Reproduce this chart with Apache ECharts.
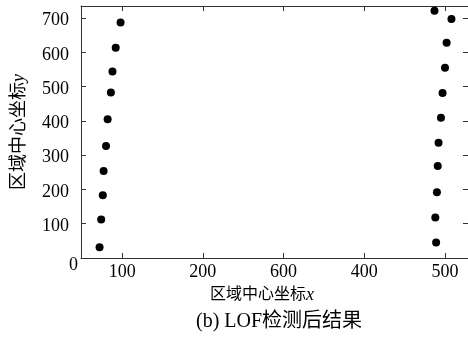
<!DOCTYPE html>
<html>
<head>
<meta charset="utf-8">
<script src="https://cdn.jsdelivr.net/npm/echarts@6/dist/echarts.min.js"></script>
<style>
html,body{margin:0;padding:0;background:#fff;}
#chart{width:468px;height:338px;}
</style>
</head>
<body>
<div id="chart"></div>
<script>
// Left cluster (x, y)
const leftX = [98, 92, 88, 86, 82, 80, 77, 76, 74, 72];
const leftY = [687, 613, 544, 483, 405, 327, 254, 183, 112, 31];
// Right cluster (x, y)
const rightX = [487, 508, 502, 500, 497, 495, 492, 491, 490, 488, 489];
const rightY = [721, 697, 628, 555, 481, 409, 336, 268, 192, 118, 45];
// Tick values and labels
const xTickValues = [100, 200, 300, 400, 500];
const xTickLabels = ['100', '200', '600', '400', '500'];
const yTickValues = [0, 100, 200, 300, 400, 500, 600, 700];
const yTickLabels = ['0', '100', '200', '300', '400', '500', '600', '700'];

const xName = '区域中心坐标';
const xNameVar = 'x';
const yName = '区域中心坐标';
const yNameVar = 'y';
const caption = '(b) LOF检测后结果';

const FONT = "'Liberation Serif', 'Noto Sans CJK SC', serif";
const AX = '#333';

const points = [];
leftX.forEach((x, i) => points.push([x, leftY[i]]));
rightX.forEach((x, i) => points.push([x, rightY[i]]));

const chart = echarts.init(document.getElementById('chart'), null, {renderer: 'canvas'});
chart.setOption({
  animation: false,
  backgroundColor: '#fff',
  title: {
    text: caption,
    left: 196, top: 312, padding: 0,
    textStyle: {fontFamily: FONT, fontSize: 20, fontWeight: 'normal', color: '#000'}
  },
  grid: {left: 81, top: 6, right: 0, bottom: 80, containLabel: false},
  xAxis: [{
    type: 'value', min: 49, max: 528.5, position: 'bottom',
    name: '{a|' + xName + '}{b|' + xNameVar + '}',
    nameLocation: 'middle', nameGap: 27,
    nameTextStyle: {
      padding: [0, 25, 0, 0],
      rich: {
        a: {fontFamily: FONT, fontSize: 16, color: '#000'},
        b: {fontFamily: FONT, fontSize: 18, fontStyle: 'italic', color: '#000'}
      }
    },
    axisLine: {show: true, lineStyle: {color: AX, width: 1}},
    axisTick: {show: true, inside: true, length: 5, customValues: xTickValues, lineStyle: {color: AX}},
    axisLabel: {
      customValues: xTickValues, margin: 5,
      formatter: v => xTickLabels[xTickValues.indexOf(v)],
      fontFamily: FONT, fontSize: 18, color: '#000'
    },
    splitLine: {show: false}
  }, {
    type: 'value', min: 49, max: 528.5, position: 'top',
    axisLine: {show: true, onZero: false, lineStyle: {color: AX, width: 1}},
    axisTick: {show: true, inside: true, length: 5, customValues: xTickValues, lineStyle: {color: AX}},
    axisLabel: {show: false},
    splitLine: {show: false}
  }],
  yAxis: [{
    type: 'value', min: 0, max: 735, position: 'left',
    name: '{a|' + yName + '}{b|' + yNameVar + '}',
    nameLocation: 'middle', nameGap: 53,
    nameTextStyle: {
      rich: {
        a: {fontFamily: FONT, fontSize: 18, color: '#000'},
        b: {fontFamily: FONT, fontSize: 18, fontStyle: 'italic', color: '#000'}
      }
    },
    axisLine: {show: true, lineStyle: {color: AX, width: 1}},
    axisTick: {show: true, inside: true, length: 5, customValues: yTickValues, lineStyle: {color: AX}},
    axisLabel: {
      customValues: yTickValues, margin: 3,
      formatter: v => {
        const t = yTickLabels[yTickValues.indexOf(v)];
        return v === 0 ? '{z|' + t + '}' : '{n|' + t + '}';
      },
      rich: {
        n: {fontFamily: FONT, fontSize: 18, color: '#000', padding: [5, 9, 0, 0]},
        z: {fontFamily: FONT, fontSize: 18, color: '#000', padding: [14, 0, 0, 0]}
      }
    },
    splitLine: {show: false}
  }, {
    type: 'value', min: 0, max: 735, position: 'right',
    axisLine: {show: false, onZero: false},
    axisTick: {show: true, inside: true, length: 5, customValues: yTickValues, lineStyle: {color: AX}},
    axisLabel: {show: false},
    splitLine: {show: false}
  }],
  series: [{
    type: 'scatter',
    xAxisIndex: 0, yAxisIndex: 0,
    data: points,
    symbol: 'circle', symbolSize: 8,
    itemStyle: {color: '#000', opacity: 1},
    clip: false
  }]
});
</script>
</body>
</html>
